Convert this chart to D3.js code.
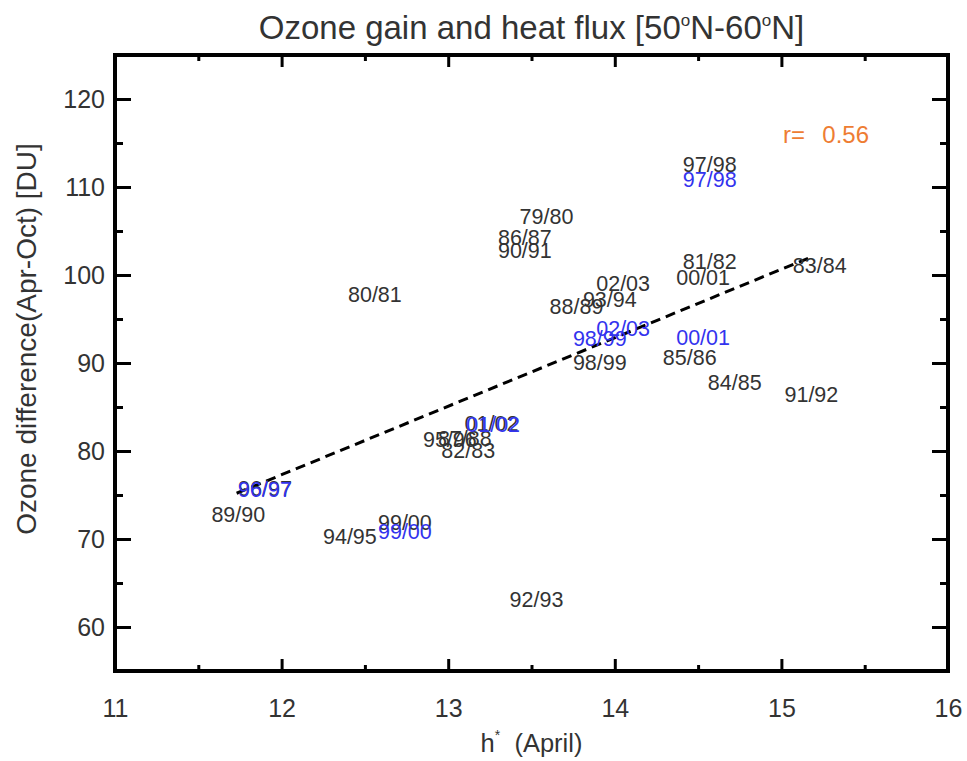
<!DOCTYPE html>
<html><head><meta charset="utf-8">
<script src="https://cdn.jsdelivr.net/npm/d3@7"></script>
<style>
body{margin:0;background:#fff;}
text{font-family:"Liberation Sans",Arial,Helvetica,sans-serif;}
</style></head>
<body><svg id="c" width="967" height="761"></svg>
<script>
// ---- data ----
const winters   = ["79/80","80/81","81/82","82/83","83/84","84/85","85/86","86/87","87/88","88/89","89/90","90/91","91/92","92/93","93/94","94/95","95/96","96/97","97/98","98/99","99/00","00/01","01/02","02/03"];
const heatFlux  = [13.59,12.56,14.57,13.12,15.23,14.72,14.45,13.46,13.10,13.77,11.74,13.46,15.18,13.53,13.97,12.41,13.01,11.90,14.57,13.91,12.74,14.53,13.26,14.05];
const ozoneDiff = [106.7,97.8,101.6,80.1,101.1,87.8,90.6,104.3,81.5,96.5,72.8,102.8,86.5,63.1,97.3,70.3,81.3,75.8,112.6,90.1,71.9,99.7,83.2,99.1];
const blueWinters = ["96/97","99/00","01/02","98/99","02/03","00/01","97/98"];
const blueFlux    = [11.90,12.74,13.27,13.91,14.05,14.53,14.57];
const blueOzone   = [75.7,70.9,83.0,92.8,93.9,92.9,110.9];
const fitX = [11.73,15.16];
const fitY = [75.2,101.9];
const xTicks = [11,12,13,14,15,16];
const yTicks = [60,70,80,90,100,110,120];
const xMinor = [11.5,12.5,13.5,14.5,15.5];
const yMinor = [55,65,75,85,95,105,115,125];
const corrText = "r=  0.56";

// ---- layout ----
const L=115,R=948,T=55,B=671;
const svg=d3.select("#c");
const x=d3.scaleLinear().domain([11,16]).range([L,R]);
const y=d3.scaleLinear().domain([55,125]).range([B,T]);
const ink="#333";

function axis(gen,tr,vals,size,labels){
  const g=svg.append("g").attr("transform",tr)
    .call(gen.tickValues(vals).tickSizeInner(-size).tickSizeOuter(0)
      .tickFormat(labels?d3.format("d"):()=>""));
  g.select(".domain").remove();
  g.selectAll(".tick line").attr("stroke","#000").attr("stroke-width",3);
  g.selectAll(".tick text").attr("fill",ink).style("font-size","25px");
  return g;
}
axis(d3.axisBottom(x).tickPadding(28),`translate(0,${B})`,xTicks,12,true);
axis(d3.axisBottom(x),`translate(0,${B})`,xMinor,6,false);
axis(d3.axisTop(x),`translate(0,${T})`,xTicks,12,false);
axis(d3.axisTop(x),`translate(0,${T})`,xMinor,6,false);
axis(d3.axisLeft(y).tickPadding(10),`translate(${L},0)`,yTicks,16,true);
axis(d3.axisLeft(y),`translate(${L},0)`,yMinor,8,false);
axis(d3.axisRight(y),`translate(${R},0)`,yTicks,16,false);
axis(d3.axisRight(y),`translate(${R},0)`,yMinor,8,false);

svg.append("rect").attr("x",L).attr("y",T).attr("width",R-L).attr("height",B-T)
  .attr("fill","none").attr("stroke","#000").attr("stroke-width",4);

// fit line
svg.append("line").attr("x1",x(fitX[0])).attr("y1",y(fitY[0])).attr("x2",x(fitX[1])).attr("y2",y(fitY[1]))
  .attr("stroke","#000").attr("stroke-width",3).attr("stroke-dasharray","10,6");

// labels
svg.append("g").selectAll("text").data(winters).join("text")
  .attr("x",(d,i)=>x(heatFlux[i])).attr("y",(d,i)=>y(ozoneDiff[i])).attr("dy","0.36em")
  .attr("text-anchor","middle").attr("fill",ink).style("font-size","21.5px").text(d=>d);
svg.append("g").selectAll("text").data(blueWinters).join("text")
  .attr("x",(d,i)=>x(blueFlux[i])).attr("y",(d,i)=>y(blueOzone[i])).attr("dy","0.36em")
  .attr("text-anchor","middle").attr("fill","#3333ee").style("font-size","21.5px").text(d=>d);

// correlation
svg.append("text").attr("x",783).attr("y",143).attr("fill","#ee7d33").style("font-size","24px")
  .style("white-space","pre").style("word-spacing","2px").text(corrText);

// title
const t=svg.append("text").attr("x",(L+R)/2).attr("y",39).attr("text-anchor","middle")
  .attr("fill",ink).style("font-size","33px");
t.append("tspan").text("Ozone gain and heat flux [50");
t.append("tspan").attr("dy",-13).style("font-size","17px").text("o");
t.append("tspan").attr("dy",13).text("N-60");
t.append("tspan").attr("dy",-13).style("font-size","17px").text("o");
t.append("tspan").attr("dy",13).text("N]");

// x title
const xt=svg.append("text").attr("x",(L+R)/2).attr("y",752).attr("text-anchor","middle")
  .attr("fill",ink).style("font-size","25.5px").style("white-space","pre");
xt.append("tspan").text("h");
xt.append("tspan").attr("dy",-12).style("font-size","14px").text("*");
xt.append("tspan").attr("dy",12).text("  (April)");

// y title
svg.append("text").attr("transform",`translate(36,339) rotate(-90)`).attr("text-anchor","middle")
  .attr("fill",ink).style("font-size","28px").text("Ozone difference(Apr-Oct) [DU]");
</script></body></html>
